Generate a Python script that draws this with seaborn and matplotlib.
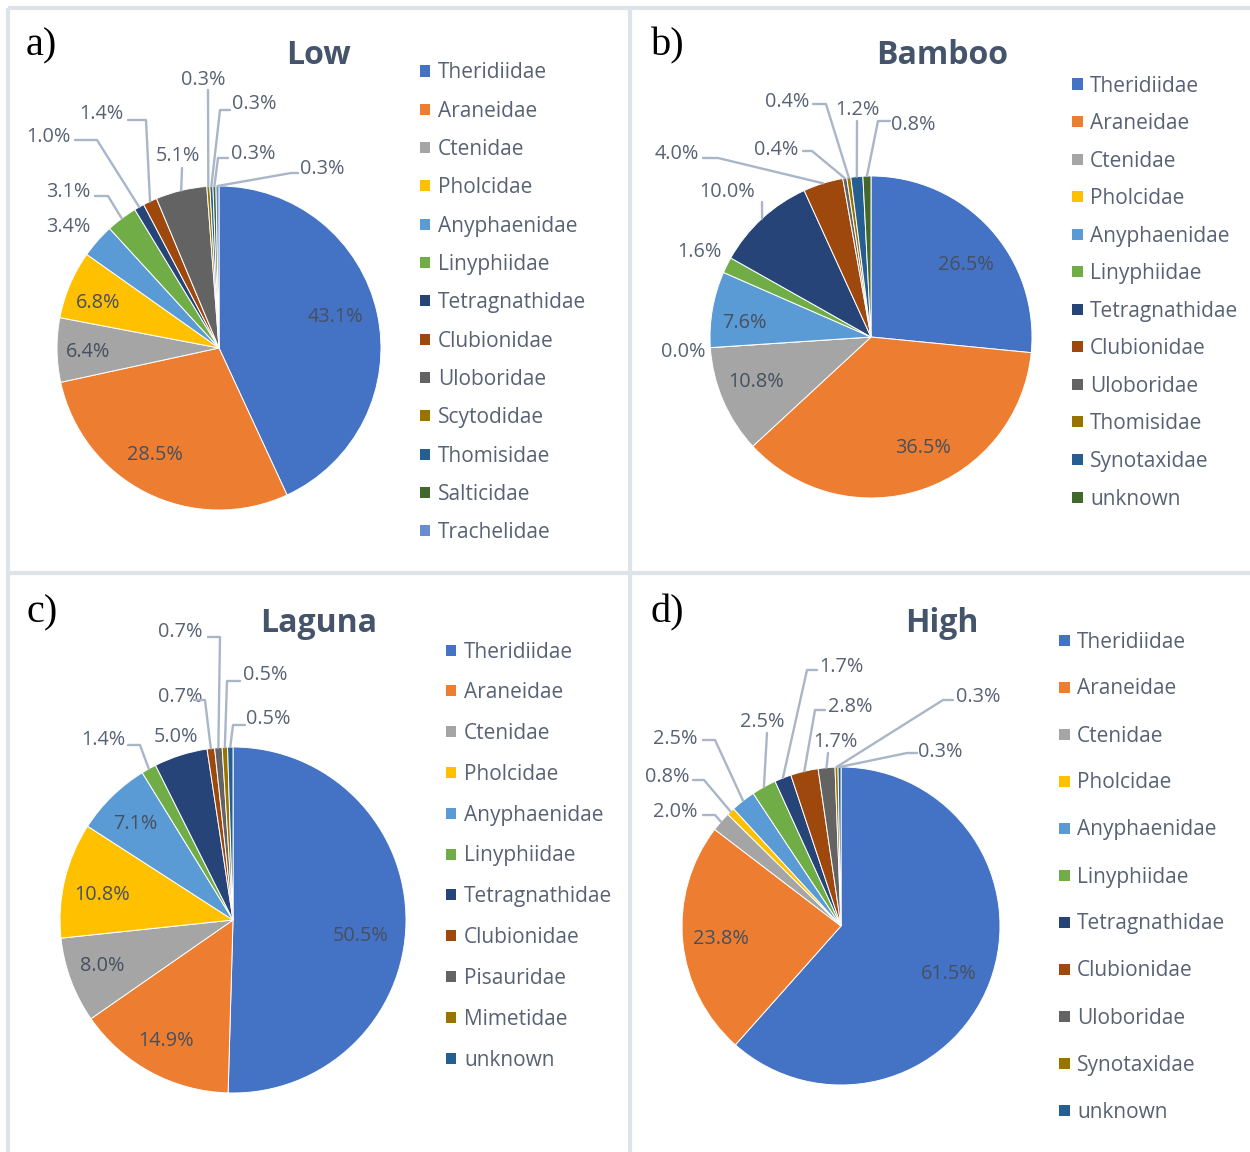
import numpy as np
import matplotlib
matplotlib.use("Agg")
import matplotlib.pyplot as plt
from matplotlib.patches import Rectangle
from matplotlib.lines import Line2D
import seaborn as sns

W, H = 1250, 1152

# ---------------- data ----------------
low_families = ["Theridiidae", "Araneidae", "Ctenidae", "Pholcidae", "Anyphaenidae",
                "Linyphiidae", "Tetragnathidae", "Clubionidae", "Uloboridae",
                "Scytodidae", "Thomisidae", "Salticidae", "Trachelidae"]
low_values = [43.1, 28.5, 6.4, 6.8, 3.4, 3.1, 1.0, 1.4, 5.1, 0.3, 0.3, 0.3, 0.3]

bamboo_families = ["Theridiidae", "Araneidae", "Ctenidae", "Pholcidae", "Anyphaenidae",
                   "Linyphiidae", "Tetragnathidae", "Clubionidae", "Uloboridae",
                   "Thomisidae", "Synotaxidae", "unknown"]
bamboo_values = [26.5, 36.5, 10.8, 0.0, 7.6, 1.6, 10.0, 4.0, 0.4, 0.4, 1.2, 0.8]

laguna_families = ["Theridiidae", "Araneidae", "Ctenidae", "Pholcidae", "Anyphaenidae",
                   "Linyphiidae", "Tetragnathidae", "Clubionidae", "Pisauridae",
                   "Mimetidae", "unknown"]
laguna_values = [50.5, 14.9, 8.0, 10.8, 7.1, 1.4, 5.0, 0.7, 0.7, 0.5, 0.5]

high_families = ["Theridiidae", "Araneidae", "Ctenidae", "Pholcidae", "Anyphaenidae",
                 "Linyphiidae", "Tetragnathidae", "Clubionidae", "Uloboridae",
                 "Synotaxidae", "unknown"]
high_values = [61.5, 23.8, 2.0, 0.8, 2.5, 2.5, 1.7, 2.8, 1.7, 0.3, 0.3]

titles = ["Low", "Bamboo", "Laguna", "High"]
panel_tags = ["a)", "b)", "c)", "d)"]

# ---------------- style / layout ----------------
office = ["#4472C4", "#ED7D31", "#A5A5A5", "#FFC000", "#5B9BD5", "#70AD47",
          "#264478", "#9E480E", "#636363", "#997300", "#255E91", "#43682B", "#698ED0"]

sns.set_theme(style="white")
plt.rcParams["font.family"] = ["Open Sans", "DejaVu Sans"]
palette = sns.color_palette(office)

TXT = "#586274"
INTXT = "#46505F"
TITLE = "#44546A"
LEAD = "#A9B6C8"
BORDER = "#DEE3EA"

# pie centre / radius in pixels
pie_geom = [(219, 348, 162), (871, 337, 161), (233, 920, 173), (841, 926, 159)]
title_pos = [(318, 55), (942, 55), (319, 623), (942, 623)]
tag_pos = [(26, 46), (651, 46), (26, 613), (651, 613)]
legend_geom = [(425, 438, 71, 38.33), (1077, 1090, 84, 37.55),
               (451, 464, 650, 40.8), (1064, 1077, 640, 47.0)]
TXT_DY = 2  # baseline correction (px) for legend and data labels

# label centre positions (px) and leader lines (start, elbow) per slice
low_lbl = [(335, 315), (155, 453), (88, 350), (98, 301), (68, 225), (68, 190), (48, 135),
           (101, 112), (178, 154), (203, 78), (254, 102), (253, 152), (322, 167)]
low_lead = [None, None, None, None, None, ((95, 196), (108, 196)), ((75, 140), (97, 140)),
            ((128, 120), (146, 120)), ((182, 168), None), ((208, 90), None),
            ((230, 110), (220, 110)), ((228, 158), (218, 158)), ((298, 173), (291, 173))]

bamboo_lbl = [(966, 263), (923, 446), (756, 380), (683, 350), (744, 321), (699, 250),
              (727, 190), (677, 152), (776, 148), (787, 100), (857, 108), (913, 123)]
bamboo_lead = [None, None, None, None, None, None, ((762, 202), None),
               ((703, 158), (718, 158)), ((803, 151), (812, 151)),
               ((813, 104), (826, 104)), ((857, 121), None), ((890, 121), (878, 121))]

laguna_lbl = [(361, 934), (166, 1039), (102, 964), (102, 893), (135, 822), (103, 738),
              (176, 735), (180, 695), (180, 630), (265, 673), (268, 717)]
laguna_lead = [None, None, None, None, None, ((128, 745), (140, 745)), None,
               ((194, 700), (205, 700)), ((208, 637), (220, 637)),
               ((240, 681), (227, 681)), ((245, 725), (233, 725))]

high_lbl = [(949, 972), (721, 937), (675, 810), (667, 775), (675, 737), (762, 720),
            (841, 665), (850, 705), (835, 740), (978, 695), (940, 750)]
high_lead = [None, None, ((703, 815), (715, 815)), ((693, 780), (704, 780)),
             ((703, 740), (715, 740)), ((767, 733), None), ((817, 670), (807, 670)),
             ((825, 710), (815, 710)), ((828, 753), None), ((953, 700), (943, 700)),
             ((917, 753), (907, 753))]

inside_idx = [(0, 1, 2, 3), (0, 1, 2, 4), (0, 1, 2, 3, 4), (0, 1)]

panels = [
    (low_families, low_values, low_lbl, low_lead),
    (bamboo_families, bamboo_values, bamboo_lbl, bamboo_lead),
    (laguna_families, laguna_values, laguna_lbl, laguna_lead),
    (high_families, high_values, high_lbl, high_lead),
]

fig = plt.figure(figsize=(W / 100, H / 100), dpi=100)
fig.patch.set_facecolor("white")


def fx(x):
    return x / W


def fy(y):
    return 1 - y / H


# panel borders
for (x0, y0, x1, y1) in [(8, 8, 1252, 8), (8, 8, 8, 1160), (630, 8, 630, 1160),
                         (8, 573, 1252, 573)]:
    fig.add_artist(Line2D([fx(x0), fx(x1)], [fy(y0), fy(y1)], transform=fig.transFigure,
                          color=BORDER, lw=3, solid_capstyle="butt"))

for i, (fams, vals, lbls, leads) in enumerate(panels):
    cx, cy, r = pie_geom[i]
    ax = fig.add_axes([fx(cx - r), fy(cy + r), 2 * r / W, 2 * r / H])
    cols = [palette[k] for k in range(len(fams))]
    wedges, _ = ax.pie(vals, colors=cols, startangle=90, counterclock=False, radius=1,
                       wedgeprops=dict(edgecolor="white", linewidth=0.7))
    ax.set_xlim(-1, 1)
    ax.set_ylim(-1, 1)
    ax.set_aspect("equal")
    ax.axis("off")

    def to_data(p):
        return ((p[0] - cx) / r, (cy - p[1]) / r)

    for k, (v, w) in enumerate(zip(vals, wedges)):
        lx, ly = to_data((lbls[k][0], lbls[k][1] + TXT_DY))
        inside = k in inside_idx[i]
        ax.text(lx, ly, f"{v:.1f}%", ha="center", va="center", fontsize=14.3,
                color=INTXT if inside else TXT, clip_on=False)
        if leads[k] is not None:
            mid = np.deg2rad((w.theta1 + w.theta2) / 2)
            pts = [to_data(leads[k][0])]
            if leads[k][1] is not None:
                pts.append(to_data(leads[k][1]))
            pts.append((np.cos(mid), np.sin(mid)))
            xs, ys = zip(*pts)
            ax.add_line(Line2D(xs, ys, color=LEAD, lw=1.7, clip_on=False, zorder=3))

    # title and tag
    tx, ty = title_pos[i]
    fig.text(fx(tx), fy(ty), titles[i], ha="center", va="center", fontsize=23,
             fontweight="bold", color=TITLE)
    gx, gy = tag_pos[i]
    fig.text(fx(gx), fy(gy), panel_tags[i], ha="left", va="center", fontsize=29,
             family=["Liberation Serif", "DejaVu Serif"], color="black")

    # legend
    mx, tx0, ly0, step = legend_geom[i]
    for k, name in enumerate(fams):
        yy = ly0 + k * step
        s = 11
        fig.add_artist(Rectangle((fx(mx - s / 2), fy(yy + s / 2)), s / W, s / H,
                                 transform=fig.transFigure, facecolor=cols[k],
                                 edgecolor="none"))
        fig.text(fx(tx0), fy(yy + TXT_DY), name, ha="left", va="center", fontsize=15,
                 color=TXT)

fig.savefig("out.png", dpi=100, facecolor="white")
